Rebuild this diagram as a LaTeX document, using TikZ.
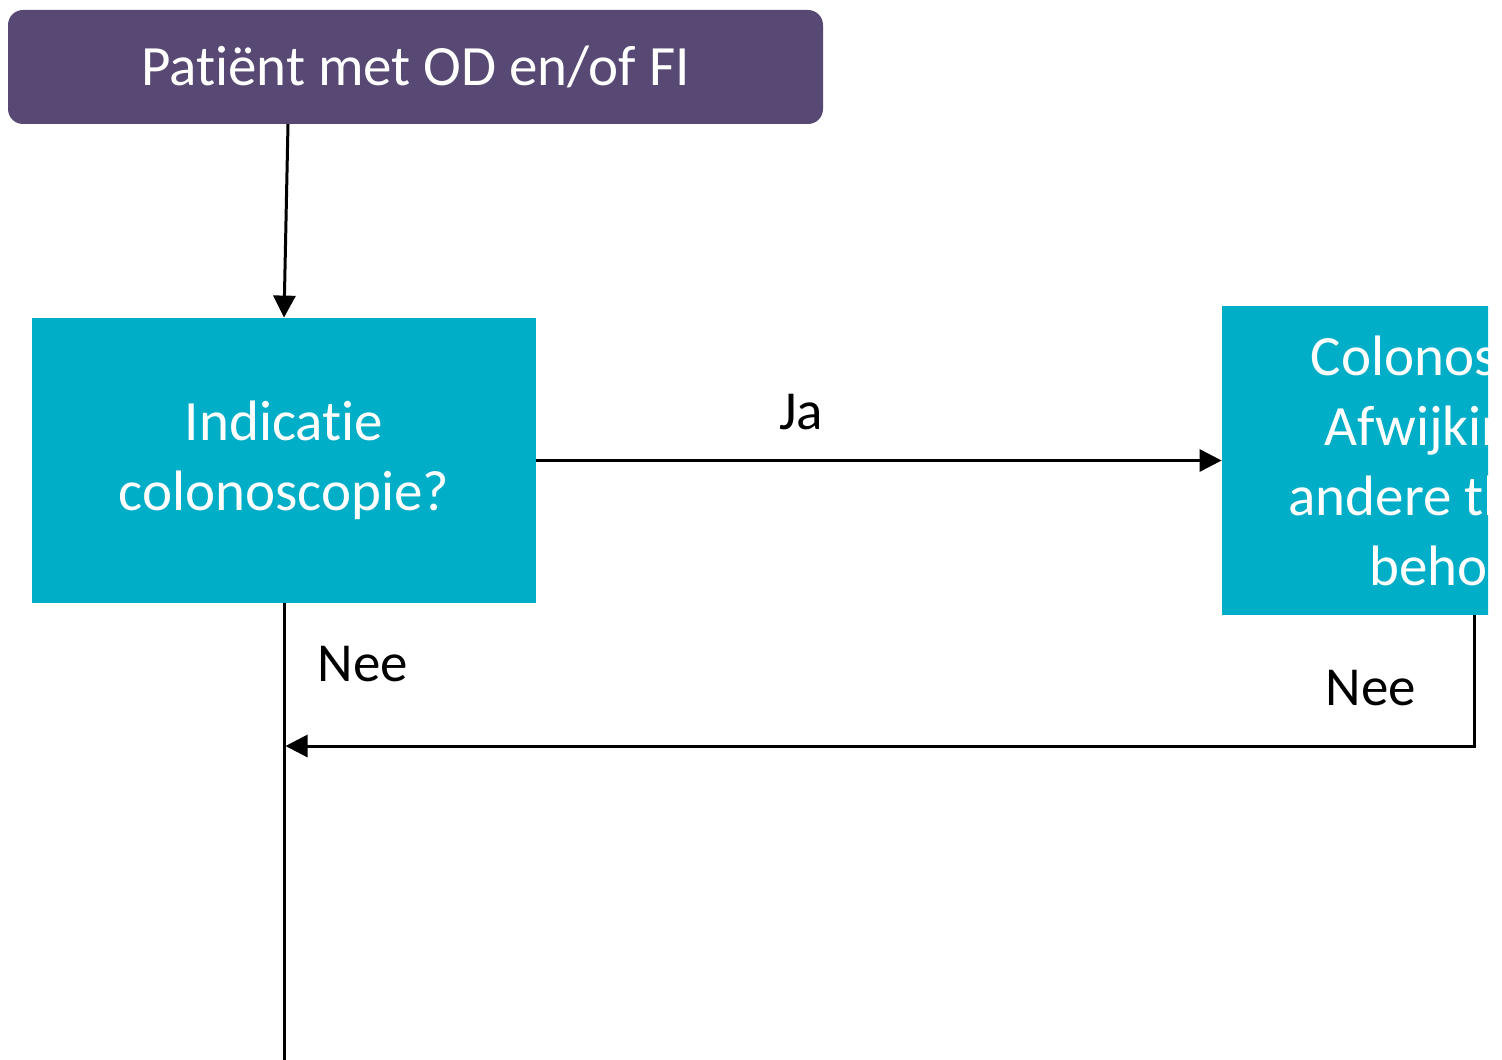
\documentclass[tikz,border=0pt]{standalone}
\usepackage{fontspec}
\setmainfont{Carlito}[Ligatures={NoCommon}]
\usetikzlibrary{positioning, arrows.meta}

\definecolor{odpurple}{RGB}{87,73,115}
\definecolor{odteal}{RGB}{0,174,199}

\begin{document}
\begin{tikzpicture}[
  x=0.5pt, y=-0.5pt,
  startbox/.style={rectangle, rounded corners=7.5pt, fill=odpurple, text=white,
    inner sep=0pt, font=\fontsize{28.5}{35}\selectfont},
  stepbox/.style={rectangle, fill=odteal, text=white, align=center,
    inner sep=0pt, minimum width=252pt, font=\fontsize{28.5}{35}\selectfont},
  lbl/.style={inner sep=0pt, font=\fontsize{27.5}{33}\selectfont},
  arr/.style={-{Triangle[length=11pt, width=11pt]}, line width=1.5pt},
  conn/.style={line width=1.5pt}
]

\useasboundingbox (0,0) rectangle (1502,1059);
\clip (0,0) rectangle (1488,1059);

% -------------------------
% BOXES
% -------------------------

\node[startbox, minimum width=407.5pt, minimum height=57pt] (patient) at (415.5,67)
  {Patiënt met OD en/of FI};

\node[stepbox, minimum height=142.5pt] (indicatie) at (284,460.5)
  {Indicatie\\colonoscopie?};

\node[stepbox, minimum height=154.5pt] (colon) at (1474,460.5)
  {Colonoscopie:\\Afwijking die\\andere therapie\\behoeft?};

% -------------------------
% CONNECTORS
% -------------------------

\coordinate (exit) at (288,124);
\coordinate (merge) at (284,746);
\coordinate (down) at (284,1080);

\draw[arr] (exit) -- (indicatie.north);
\draw[arr] (indicatie.east) -- (colon.west);
\draw[conn] (indicatie.south) -- (down);
\draw[arr, shorten >=0.75pt] (colon.south) |- (merge);

% labels
\node[lbl] (ja) at (801,412) {Ja};
\node[lbl] (nee1) at (363,664) {Nee};
\node[lbl] (nee2) at (1371,688) {Nee};

\end{tikzpicture}
\end{document}
